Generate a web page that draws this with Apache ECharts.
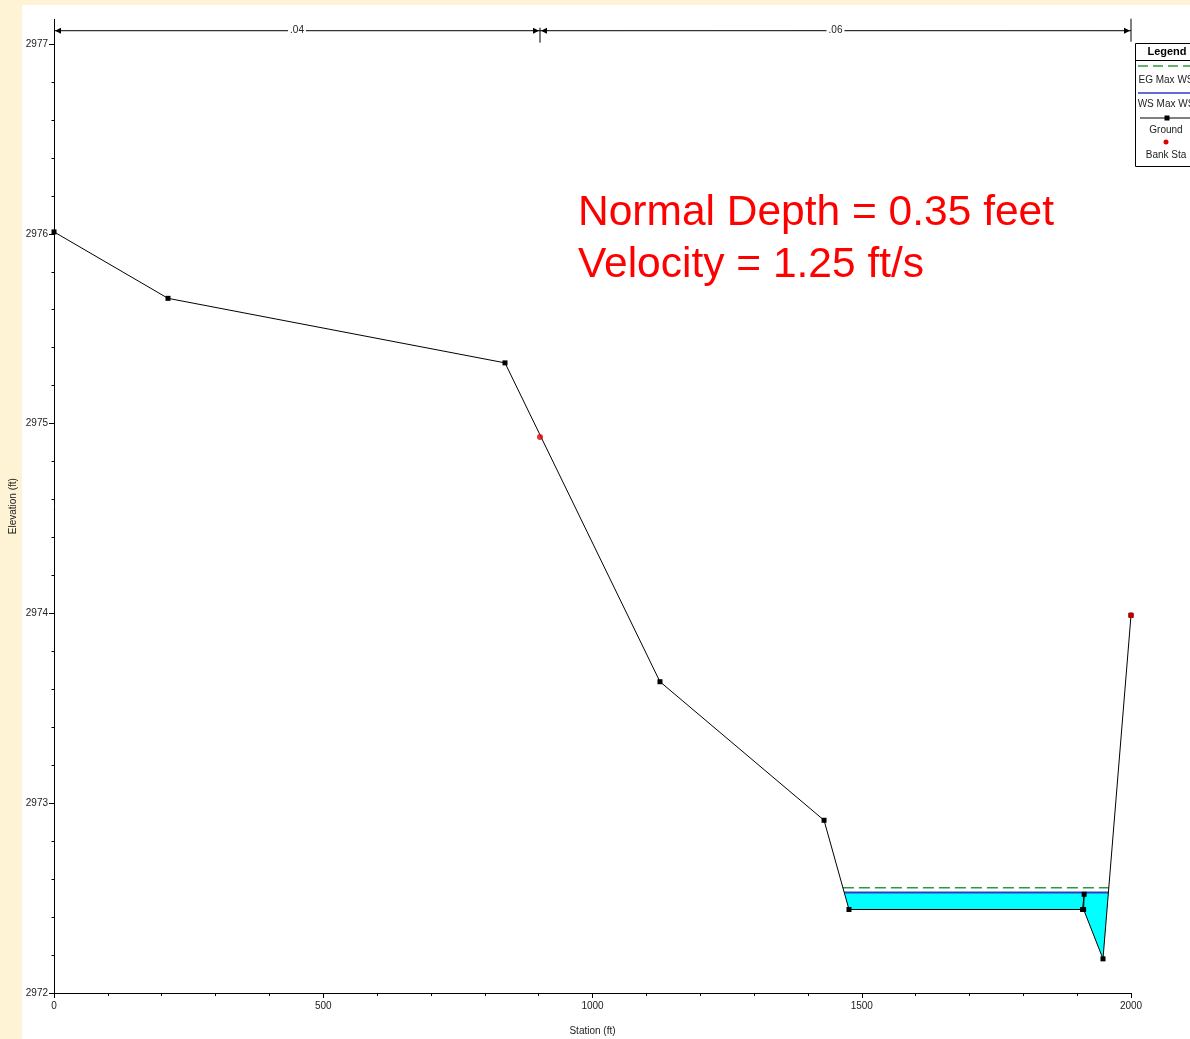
<!DOCTYPE html>
<html><head><meta charset="utf-8">
<script src="https://cdn.jsdelivr.net/npm/echarts@6/dist/echarts.min.js"></script>
<style>html,body{margin:0;padding:0;background:#fff}#c{width:1190px;height:1039px}</style>
</head><body><div id="c"></div>
<script>
// ---- data ----
const groundStation = [0, 211.7, 837.5, 1125.3, 1430, 1476.3, 1910, 1913, 1912, 1948, 2000];
const groundElev    = [2976.01, 2975.66, 2975.32, 2973.64, 2972.91, 2972.44, 2972.44, 2972.52, 2972.44, 2972.18, 2973.99];
const bankStation   = [902.5, 2000];
const bankElev      = [2974.93, 2973.99];
const wsElev = 2972.53;    // WS Max WS
const egElev = 2972.555;   // EG Max WS
const nValueLabels  = ['.04', '.06'];
const nValueBounds  = [0, 902.5, 2000];
const xTickValues   = [0, 500, 1000, 1500, 2000];
const yTickValues   = [2972, 2973, 2974, 2975, 2976, 2977];
const noteLines     = ['Normal Depth = 0.35 feet', 'Velocity = 1.25 ft/s'];

const FONT = '"Liberation Sans",Arial,sans-serif';
const yMin = 2972, yMax = 2977.13, nRowElev = 2977.07;

// crossings of a level with the ground profile
function crossings(level) {
  let left = null, right = null, li = -1, ri = -1;
  for (let i = 0; i < groundStation.length - 1; i++) {
    const a = groundElev[i], b = groundElev[i + 1];
    const s0 = groundStation[i], s1 = groundStation[i + 1];
    if (left === null && a > level && b <= level) { left = s0 + (a - level) / (a - b) * (s1 - s0); li = i + 1; }
    if (a <= level && b > level) { right = s0 + (level - a) / (b - a) * (s1 - s0); ri = i; }
  }
  return {left, right, li, ri};
}
const wsX = crossings(wsElev), egX = crossings(egElev);
const waterPoly = [[wsX.left, wsElev]];
for (let i = wsX.li; i <= wsX.ri; i++) waterPoly.push([groundStation[i], groundElev[i]]);
waterPoly.push([wsX.right, wsElev]);

const groundData = groundStation.map((s, i) => [s, groundElev[i]]);
const bankData = bankStation.map((s, i) => [s, bankElev[i]]);
const nSegments = nValueLabels.map((l, i) => [nValueBounds[i], nValueBounds[i + 1]]);

// minor y tick values (5 per major interval)
const yMinor = [];
for (let i = 0; i < yTickValues.length - 1; i++)
  for (let k = 1; k < 5; k++) yMinor.push(+(yTickValues[i] + k * (yTickValues[i + 1] - yTickValues[i]) / 5).toFixed(3));

const chart = echarts.init(document.getElementById('c'), null, {renderer: 'canvas'});
const plain = v => String(v);
const EG_COLOR = '#2f9a3a', WS_COLOR = '#2b3dcc';
const axisCommon = {
  axisLine: {show: true, lineStyle: {color: '#000', width: 1}},
  splitLine: {show: false},
  axisLabel: {color: '#222', fontFamily: FONT, fontSize: 10, formatter: plain},
  nameTextStyle: {color: '#222', fontFamily: FONT, fontSize: 10}
};
const option = {
  backgroundColor: '#fff',
  animation: false,
  grid: {left: 54, right: 59, top: 19.33, bottom: 46, containLabel: false, outerBoundsMode: 'none'},
  xAxis: [{
    type: 'value', min: 0, max: 2000, interval: 500,
    ...axisCommon,
    axisLabel: {...axisCommon.axisLabel, margin: 8, customValues: xTickValues},
    axisTick: {show: true, length: 5, inside: false, lineStyle: {color: '#000'}, customValues: xTickValues},
    minorTick: {show: true, splitNumber: 5, length: 3, lineStyle: {color: '#000'}},
    name: 'Station (ft)', nameLocation: 'middle', nameGap: 33, nameMoveOverlap: false
  }],
  yAxis: [{
    type: 'value', min: yMin, max: yMax, interval: 1,
    ...axisCommon,
    axisLabel: {...axisCommon.axisLabel, margin: 6, customValues: yTickValues},
    axisTick: {show: true, length: 5, lineStyle: {color: '#000'}, customValues: yTickValues},
    name: 'Elevation (ft)', nameLocation: 'middle', nameGap: 36, nameRotate: 90, nameMoveOverlap: false
  }, {
    type: 'value', min: yMin, max: yMax, position: 'left', offset: 0,
    axisLine: {show: false}, axisLabel: {show: false}, splitLine: {show: false},
    axisTick: {show: true, length: 2.5, lineStyle: {color: '#000'}, customValues: yMinor}
  }],
  series: [
    {
      name: 'Water', type: 'custom', coordinateSystem: 'cartesian2d', z: 2,
      data: waterPoly, silent: true,
      renderItem: function (params, api) {
        if (params.dataIndex !== 0) return null;
        return {type: 'polygon', shape: {points: waterPoly.map(p => api.coord(p))},
          style: {fill: '#00FFFF', stroke: null}};
      }
    },
    {
      name: 'EG Max WS', type: 'line', z: 4, symbol: 'none',
      data: [[egX.left, egElev], [egX.right, egElev]],
      lineStyle: {color: EG_COLOR, width: 1.5, type: [11, 5]}
    },
    {
      name: 'WS Max WS', type: 'line', z: 4, symbol: 'none',
      data: [[wsX.left, wsElev], [wsX.right, wsElev]],
      lineStyle: {color: WS_COLOR, width: 2}
    },
    {
      name: 'Ground', type: 'line', z: 5, data: groundData,
      symbol: 'rect', symbolSize: 5, itemStyle: {color: '#000'},
      lineStyle: {color: '#000', width: 1}
    },
    {
      name: 'Bank Sta', type: 'scatter', z: 6, data: bankData,
      symbol: 'circle', symbolSize: 6, itemStyle: {color: '#e00000'}
    },
    {
      name: 'n values', type: 'custom', coordinateSystem: 'cartesian2d', z: 6, clip: false,
      data: nSegments, silent: true,
      renderItem: function (params, api) {
        const p1 = api.coord([api.value(0), nRowElev]);
        const p2 = api.coord([api.value(1), nRowElev]);
        const y = p1[1];
        const last = params.dataIndex === nSegments.length - 1;
        const ch = [
          {type: 'line', shape: {x1: p1[0], y1: y, x2: p2[0], y2: y}, style: {stroke: '#000', lineWidth: 1}},
          {type: 'polygon', shape: {points: [[p1[0] + 1, y], [p1[0] + 7, y - 3], [p1[0] + 7, y + 3]]}, style: {fill: '#000'}},
          {type: 'polygon', shape: {points: [[p2[0] - 1, y], [p2[0] - 7, y - 3], [p2[0] - 7, y + 3]]}, style: {fill: '#000'}},
          {type: 'line', shape: {x1: p2[0], y1: last ? y - 12 : y - 3, x2: p2[0], y2: last ? y + 11 : y + 12}, style: {stroke: '#000', lineWidth: 1}},
          {type: 'text', style: {text: nValueLabels[params.dataIndex], x: (p1[0] + p2[0]) / 2, y: y,
            align: 'center', verticalAlign: 'middle', font: '10px ' + FONT, fill: '#222',
            backgroundColor: '#fff', padding: [1, 2]}}
        ];
        return {type: 'group', children: ch};
      }
    }
  ],
  graphic: [
    {type: 'rect', shape: {x: 0, y: 0, width: 22, height: 1039}, style: {fill: '#FEF3D4'}, silent: true},
    {type: 'rect', shape: {x: 0, y: 0, width: 1190, height: 5}, style: {fill: '#FEF3D4'}, silent: true},
    // legend box
    {type: 'rect', shape: {x: 1135.5, y: 43.5, width: 80, height: 123}, style: {fill: '#fff', stroke: '#000', lineWidth: 1}},
    {type: 'text', x: 1167, y: 52, style: {text: 'Legend', align: 'center', verticalAlign: 'middle', font: 'bold 11px ' + FONT, fill: '#000'}},
    {type: 'line', shape: {x1: 1135, y1: 60.5, x2: 1200, y2: 60.5}, style: {stroke: '#000', lineWidth: 1}},
    {type: 'line', shape: {x1: 1138, y1: 66, x2: 1192, y2: 66}, style: {stroke: EG_COLOR, lineWidth: 1.3, lineDash: [10, 5]}},
    {type: 'text', x: 1166, y: 80, style: {text: 'EG Max WS', align: 'center', verticalAlign: 'middle', font: '10px ' + FONT, fill: '#222'}},
    {type: 'line', shape: {x1: 1138, y1: 93, x2: 1192, y2: 93}, style: {stroke: WS_COLOR, lineWidth: 1.3}},
    {type: 'text', x: 1166, y: 104, style: {text: 'WS Max WS', align: 'center', verticalAlign: 'middle', font: '10px ' + FONT, fill: '#222'}},
    {type: 'line', shape: {x1: 1140, y1: 118, x2: 1192, y2: 118}, style: {stroke: '#000', lineWidth: 1}},
    {type: 'rect', shape: {x: 1164.5, y: 115.5, width: 5, height: 5}, style: {fill: '#000'}},
    {type: 'text', x: 1166, y: 130, style: {text: 'Ground', align: 'center', verticalAlign: 'middle', font: '10px ' + FONT, fill: '#222'}},
    {type: 'circle', shape: {cx: 1166, cy: 142, r: 2.5}, style: {fill: '#e00000'}},
    {type: 'text', x: 1166, y: 155, style: {text: 'Bank Sta', align: 'center', verticalAlign: 'middle', font: '10px ' + FONT, fill: '#222'}},
    // annotation
    {type: 'text', x: 578, y: 213, style: {text: noteLines[0], align: 'left', verticalAlign: 'middle', font: '42.5px "Liberation Sans",Arial,sans-serif', fill: '#FF0000'}},
    {type: 'text', x: 578, y: 265, style: {text: noteLines[1], align: 'left', verticalAlign: 'middle', font: '42.5px "Liberation Sans",Arial,sans-serif', fill: '#FF0000'}}
  ]
};
chart.setOption(option);
</script></body></html>
